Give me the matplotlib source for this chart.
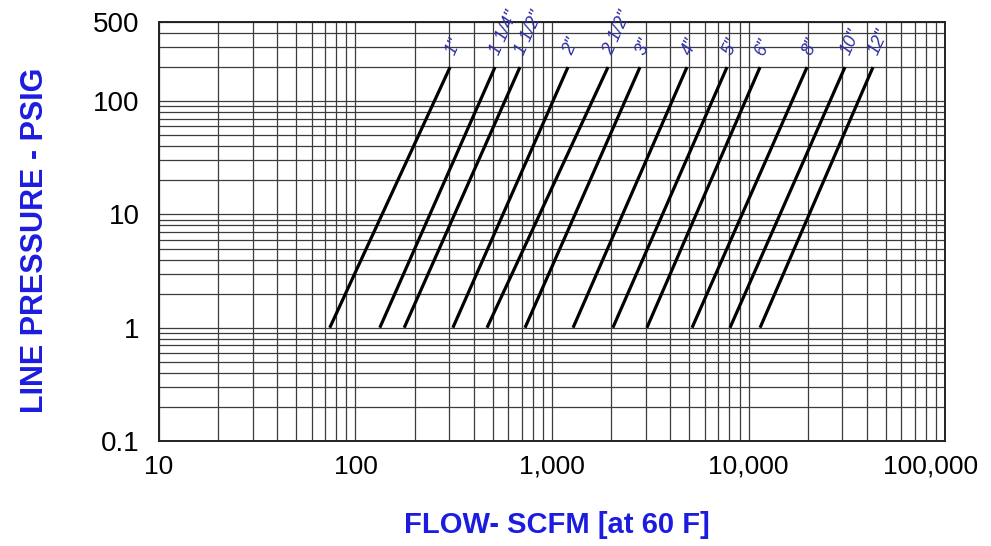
import matplotlib
matplotlib.use('Agg')
import matplotlib.pyplot as plt
import matplotlib.transforms as mtransforms
from matplotlib.ticker import FixedLocator, LogLocator, NullFormatter

# pipe sizes and flow (SCFM) at 1 psig and at 200 psig
pipe_sizes = ['1"', '1 1/4"', '1 1/2"', '2"', '2 1/2"', '3"',
              '4"', '5"', '6"', '8"', '10"', '12"']
flow_at_low = [74, 133, 177, 313, 467, 729, 1280, 2040, 3040, 5160, 8050, 11450]
flow_at_high = [303, 513, 687, 1206, 1928, 2805, 4864, 7776, 11450, 19860, 30970, 43020]
pressure_low = 1
pressure_high = 200

x_ticks = [10, 100, 1000, 10000, 100000]
x_tick_labels = ['10', '100', '1,000', '10,000', '100,000']
y_ticks = [0.1, 1, 10, 100, 500]
y_tick_labels = ['0.1', '1', '10', '100', '500']

plt.rcParams['font.family'] = ['Liberation Sans', 'DejaVu Sans']

fig = plt.figure(figsize=(9.91, 5.46), dpi=100)
ax = fig.add_axes([0.1604, 0.1923, 0.7932, 0.7674])

ax.set_xscale('log')
ax.set_yscale('log')
ax.set_xlim(10, 100000)
ax.set_ylim(0.1, 500)

for size, q1, q2 in zip(pipe_sizes, flow_at_low, flow_at_high):
    ax.plot([q1, q2], [pressure_low, pressure_high], color='black', lw=2.3,
            solid_capstyle='butt', zorder=3)
    ax.annotate(size, xy=(q2, pressure_high), xytext=(0, 9), textcoords='offset points',
                rotation=66, rotation_mode='anchor', ha='left', va='center',
                fontsize=13, style='italic', color='#3030a8', annotation_clip=False)

ax.xaxis.set_major_locator(FixedLocator(x_ticks))
ax.set_xticklabels(x_tick_labels)
ax.yaxis.set_major_locator(FixedLocator(y_ticks))
ax.set_yticklabels(y_tick_labels)
ax.xaxis.set_minor_locator(LogLocator(base=10, subs=range(2, 10), numticks=20))
ax.yaxis.set_minor_locator(LogLocator(base=10, subs=range(2, 10), numticks=20))
ax.xaxis.set_minor_formatter(NullFormatter())
ax.yaxis.set_minor_formatter(NullFormatter())

ax.grid(True, which='both', color='#3c3c3c', lw=0.9)
ax.set_axisbelow(True)
ax.tick_params(which='both', length=0)
ax.tick_params(axis='x', pad=10, labelsize=19)
ax.tick_params(axis='y', pad=14, labelsize=20)

# last x label sits a little left of its gridline, as in the original
last = ax.get_xticklabels()[-1]
last.set_transform(last.get_transform() +
                   mtransforms.ScaledTranslation(-14 / 100, 0, fig.dpi_scale_trans))

for sp in ax.spines.values():
    sp.set_linewidth(1.4)
    sp.set_color('#222222')

fig.text(557 / 991, 1 - 525 / 546, 'FLOW- SCFM [at 60 F]', color='#1c1ce0',
         fontsize=21, fontweight='bold', ha='center', va='center')
fig.text(35 / 991, 1 - 240 / 546, 'LINE PRESSURE - PSIG', color='#1c1ce0',
         fontsize=22, fontweight='bold', ha='center', va='center', rotation=90)

fig.savefig('out.png', dpi=100)
